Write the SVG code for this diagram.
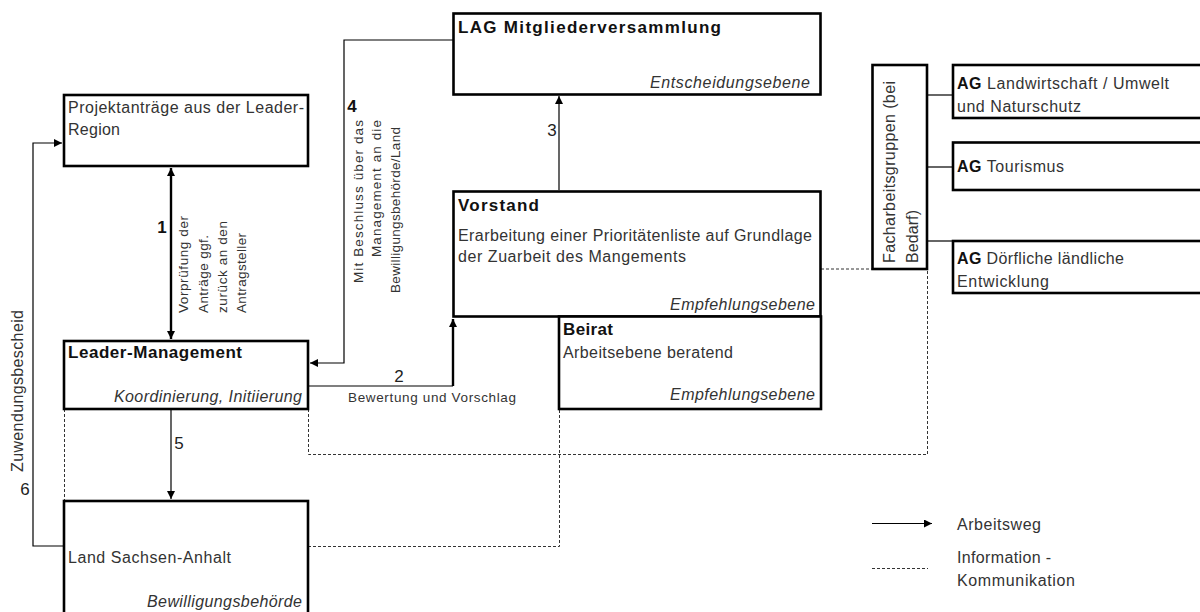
<svg xmlns="http://www.w3.org/2000/svg" width="1200" height="612" viewBox="0 0 1200 612">
<defs>
<marker id="ah" viewBox="0 0 10 10" refX="10" refY="5" markerWidth="9" markerHeight="8" orient="auto-start-reverse" markerUnits="userSpaceOnUse">
<path d="M0,0 L10,5 L0,10 z" fill="#000"/>
</marker>
<style>
.box{fill:#fff;stroke:#000;stroke-width:2.6}
.t{font-family:"Liberation Sans",Arial,sans-serif;font-size:16px;fill:#333}
.b{font-family:"Liberation Sans",Arial,sans-serif;font-size:17px;font-weight:bold;fill:#111}
.i{font-family:"Liberation Sans",Arial,sans-serif;font-size:16px;font-style:italic;fill:#333}
.s{font-family:"Liberation Sans",Arial,sans-serif;font-size:13.5px;fill:#333}
.n{font-family:"Liberation Sans",Arial,sans-serif;font-size:17px;fill:#222}
.nb{font-family:"Liberation Sans",Arial,sans-serif;font-size:17px;font-weight:bold;fill:#111}
.ln{fill:none;stroke:#000;stroke-width:1.2}
.lt{fill:none;stroke:#000;stroke-width:2.4}
.ds{fill:none;stroke:#333;stroke-width:1;stroke-dasharray:3,2}
</style>
</defs>
<rect width="1200" height="612" fill="#fff"/>

<g id="connectors">
<line class="lt" x1="171" y1="168" x2="171" y2="339" marker-start="url(#ah)" marker-end="url(#ah)"/>
<polyline class="ln" points="453,40 344,40 344,363 310,363" marker-end="url(#ah)"/>
<polyline class="ln" points="308,386 453,386"/>
<line class="lt" x1="453" y1="386" x2="453" y2="319" marker-end="url(#ah)"/>
<line class="ln" x1="559" y1="190" x2="559" y2="96" marker-end="url(#ah)"/>
<line class="ln" x1="171" y1="409" x2="171" y2="499" marker-end="url(#ah)"/>
<polyline class="ln" points="64,546 33,546 33,143 62,143" marker-end="url(#ah)"/>
<line class="ln" x1="927" y1="95" x2="953" y2="95"/>
<line class="ln" x1="927" y1="167" x2="953" y2="167"/>
<line class="ln" x1="927" y1="241" x2="953" y2="241"/>
<line class="ds" x1="64.5" y1="409" x2="64.5" y2="500"/>
<polyline class="ds" points="308.5,409 308.5,454.5 927.5,454.5 927.5,269"/>
<line class="ds" x1="821" y1="269" x2="872" y2="269"/>
<polyline class="ds" points="308,546.5 559.5,546.5 559.5,409"/>
<text class="nb" x="162" y="233" text-anchor="middle">1</text>
<text class="s" transform="translate(188,313) rotate(-90)" textLength="97" lengthAdjust="spacing">Vorprüfung der</text>
<text class="s" transform="translate(207.5,313) rotate(-90)" textLength="78" lengthAdjust="spacing">Anträge ggf.</text>
<text class="s" transform="translate(227,313) rotate(-90)" textLength="92" lengthAdjust="spacing">zurück an den</text>
<text class="s" transform="translate(246,313) rotate(-90)" textLength="80" lengthAdjust="spacing">Antragsteller</text>
<text class="nb" x="352" y="112" text-anchor="middle">4</text>
<text class="s" transform="translate(363,283) rotate(-90)" textLength="163" lengthAdjust="spacing">Mit Beschluss über das</text>
<text class="s" transform="translate(381,257) rotate(-90)" textLength="137" lengthAdjust="spacing">Management an die</text>
<text class="s" transform="translate(400,293) rotate(-90)" textLength="166" lengthAdjust="spacing">Bewilligungsbehörde/Land</text>
<text class="n" x="399" y="382" text-anchor="middle">2</text>
<text class="s" x="348" y="402" textLength="168" lengthAdjust="spacing">Bewertung und Vorschlag</text>
<text class="n" x="552" y="136" text-anchor="middle">3</text>
<text class="n" x="179" y="449" text-anchor="middle">5</text>
<text class="n" x="25" y="495" text-anchor="middle">6</text>
<text class="t" font-size="15" transform="translate(23,472) rotate(-90)" textLength="162" lengthAdjust="spacing">Zuwendungsbescheid</text>
</g>

<g id="projektantraege">
<rect class="box" x="64" y="95" width="244" height="71"/>
<text class="t" x="68" y="113" textLength="236" lengthAdjust="spacing">Projektanträge aus der Leader-</text>
<text class="t" x="68" y="135" textLength="52" lengthAdjust="spacing">Region</text>
</g>

<g id="leader-management">
<rect class="box" x="64" y="341" width="244" height="68"/>
<text class="b" x="68" y="358" textLength="174" lengthAdjust="spacing">Leader-Management</text>
<text class="i" x="302" y="402" text-anchor="end" textLength="188" lengthAdjust="spacing">Koordinierung, Initiierung</text>
</g>

<g id="land">
<rect class="box" x="64" y="501" width="244" height="130"/>
<text class="t" x="68" y="563" textLength="163" lengthAdjust="spacing">Land Sachsen-Anhalt</text>
<text class="i" x="302" y="607" text-anchor="end" textLength="155" lengthAdjust="spacing">Bewilligungsbehörde</text>
</g>

<g id="lag">
<rect class="box" x="453.5" y="13.5" width="367" height="81"/>
<text class="b" x="458" y="33" textLength="263" lengthAdjust="spacing">LAG Mitgliederversammlung</text>
<text class="i" x="810" y="88" text-anchor="end" textLength="160" lengthAdjust="spacing">Entscheidungsebene</text>
</g>

<g id="vorstand">
<rect class="box" x="453.5" y="191.5" width="367" height="125"/>
<text class="b" x="458" y="211" textLength="81" lengthAdjust="spacing">Vorstand</text>
<text class="t" x="458" y="241" textLength="354" lengthAdjust="spacing">Erarbeitung einer Prioritätenliste auf Grundlage</text>
<text class="t" x="458" y="262" textLength="228" lengthAdjust="spacing">der Zuarbeit des Mangements</text>
<text class="i" x="815" y="310" text-anchor="end" textLength="145" lengthAdjust="spacing">Empfehlungsebene</text>
</g>

<g id="beirat">
<rect class="box" x="559" y="316.5" width="262" height="92.5"/>
<text class="b" x="563" y="335" textLength="50" lengthAdjust="spacing">Beirat</text>
<text class="t" x="563" y="358" textLength="170" lengthAdjust="spacing">Arbeitsebene beratend</text>
<text class="i" x="815" y="400" text-anchor="end" textLength="145" lengthAdjust="spacing">Empfehlungsebene</text>
</g>

<g id="facharbeitsgruppen">
<rect class="box" x="872.5" y="65" width="54.5" height="204"/>
<text class="t" transform="translate(895,263) rotate(-90)" textLength="182" lengthAdjust="spacing">Facharbeitsgruppen (bei</text>
<text class="t" transform="translate(918,263) rotate(-90)" textLength="53" lengthAdjust="spacing">Bedarf)</text>
</g>

<g id="ag-landwirtschaft">
<rect class="box" x="953" y="65" width="260" height="53"/>
<text class="t" x="957" y="89" textLength="212" lengthAdjust="spacing"><tspan font-weight="bold" fill="#111">AG</tspan> Landwirtschaft / Umwelt</text>
<text class="t" x="957" y="112" textLength="124" lengthAdjust="spacing">und Naturschutz</text>
</g>

<g id="ag-tourismus">
<rect class="box" x="953" y="142.5" width="260" height="47.5"/>
<text class="t" x="957" y="172" textLength="107" lengthAdjust="spacing"><tspan font-weight="bold" fill="#111">AG</tspan> Tourismus</text>
</g>

<g id="ag-doerfliche">
<rect class="box" x="953" y="241" width="260" height="52"/>
<text class="t" x="957" y="264" textLength="167" lengthAdjust="spacing"><tspan font-weight="bold" fill="#111">AG</tspan> Dörfliche ländliche</text>
<text class="t" x="957" y="287" textLength="92" lengthAdjust="spacing">Entwicklung</text>
</g>

<g id="legend">
<line class="ln" x1="872" y1="523.5" x2="932" y2="523.5" marker-end="url(#ah)"/>
<text class="t" x="957" y="530" textLength="84" lengthAdjust="spacing">Arbeitsweg</text>
<line class="ds" x1="872" y1="568.5" x2="928" y2="568.5"/>
<text class="t" x="957" y="563" textLength="94" lengthAdjust="spacing">Information -</text>
<text class="t" x="957" y="586" textLength="118" lengthAdjust="spacing">Kommunikation</text>
</g>
</svg>
